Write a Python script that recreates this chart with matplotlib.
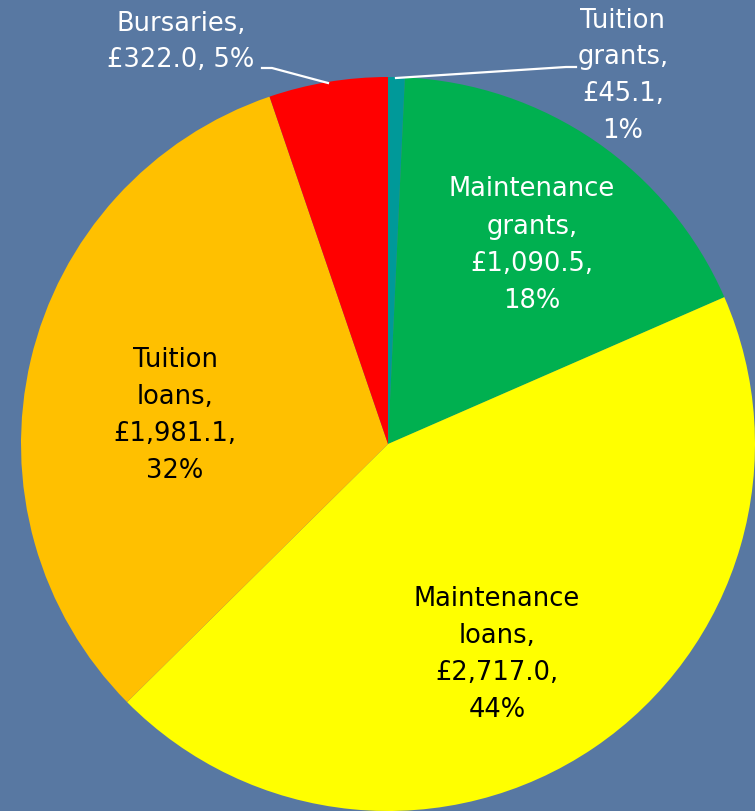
#------------------------------------------------------------------------------
# IMPORTS
#------------------------------------------------------------------------------
from matplotlib import pyplot as plt

#------------------------------------------------------------------------------
# DATA
#------------------------------------------------------------------------------
categories = ["Tuition\ngrants", "Maintenance\ngrants", "Maintenance\nloans",
              "Tuition\nloans", "Bursaries"]
values = [45.1, 1090.5, 2717.0, 1981.1, 322.0]
percents = ["1%", "18%", "44%", "32%", "5%"]
colors = ["#009999", "#00b050", "#ffff00", "#ffc000", "#ff0000"]

#------------------------------------------------------------------------------
# MAIN
#------------------------------------------------------------------------------
def main():
    W, H = 755, 812
    fig = plt.figure(figsize=(W/100, H/100), dpi=100)
    fig.patch.set_facecolor("#5878a2")
    ax = fig.add_axes([0, 0, 1, 1])

    cx, cy, r = 388, H - 445, 367
    ax.pie(values, colors=colors, startangle=90, counterclock=False,
           center=(cx, cy), radius=r, frame=True,
           wedgeprops=dict(linewidth=0))
    ax.set_xlim(0, W)
    ax.set_ylim(0, H)
    ax.set_aspect("equal")
    ax.axis("off")

    fs = 18.5
    font = ["DejaVu Sans"]

    def label(i, x, y, color, one_line_tail=False):
        if one_line_tail:
            txt = f"{categories[i]},\n£{values[i]:,.1f}, {percents[i]}"
        else:
            txt = f"{categories[i]},\n£{values[i]:,.1f},\n{percents[i]}"
        ax.text(x, H - y, txt, ha="center", va="center", fontsize=fs,
                color=color, linespacing=1.55, family=font)

    label(0, 623, 76, "white")
    label(1, 532, 245, "white")
    label(2, 497, 655, "black")
    label(3, 175, 416, "black")
    label(4, 181, 42, "white", one_line_tail=True)

    # leader lines
    ax.plot([262, 272, 328], [H - 69, H - 69, H - 84], color="white", lw=1.6)
    ax.plot([396, 566, 576], [H - 79, H - 68, H - 68], color="white", lw=1.6)

    fig.savefig("out.png", dpi=100, facecolor=fig.get_facecolor())

#------------------------------------------------------------------------------
if __name__ == '__main__':
    main()
